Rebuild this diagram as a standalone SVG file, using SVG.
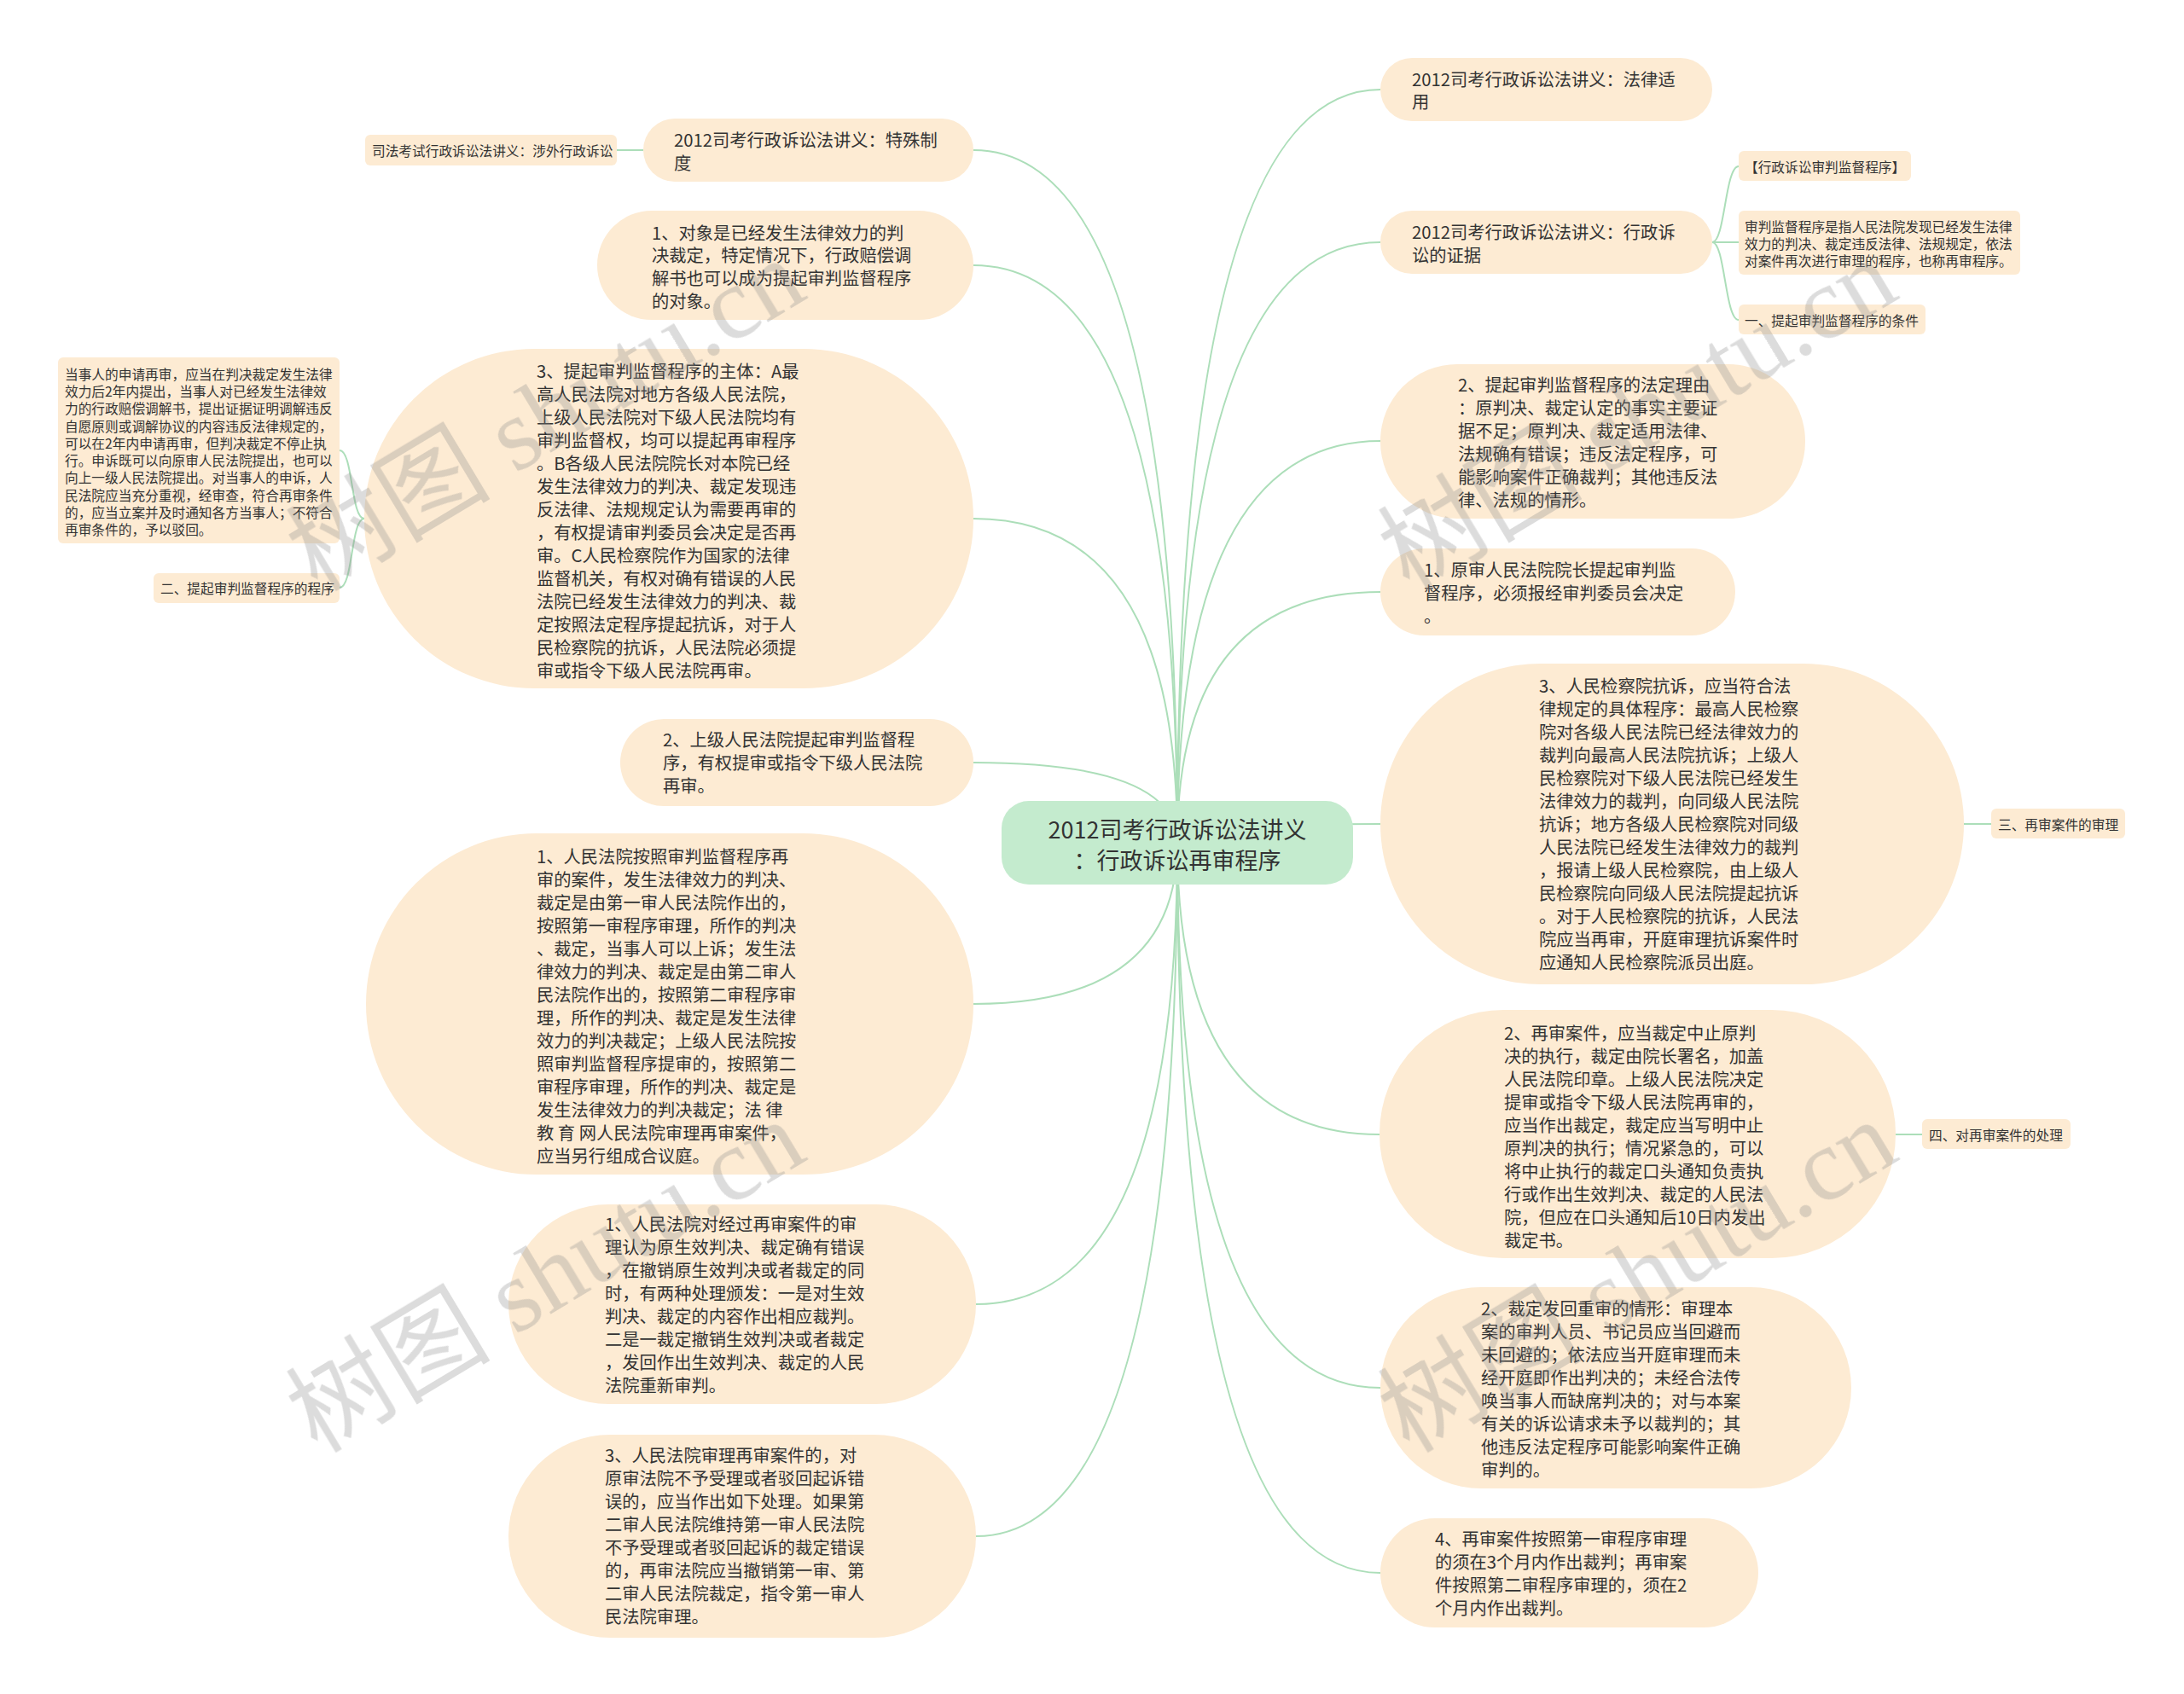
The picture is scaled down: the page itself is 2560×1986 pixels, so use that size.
<svg xmlns="http://www.w3.org/2000/svg" width="2560" height="1986" viewBox="0 0 2560 1986">
<style>
.n{fill:#fdebd3}
.cn{fill:#c4ebce}
.t{font-family:"Noto Sans CJK SC","Noto Sans",sans-serif;fill:#333333;dominant-baseline:central}
.s20{font-size:20.3px}
.s16{font-size:15.7px}
.s27{font-size:27px}
.ln{fill:none;stroke:#acdeb9;stroke-width:2}
.wm{font-family:"Liberation Serif","Noto Sans CJK SC",serif;font-size:120px;fill:#8a8a8a;opacity:0.3}
</style>
<rect width="2560" height="1986" fill="#ffffff"/>
<g id="connectors" class="ln">
<path d="M1380,988 Q1380,176 1141,176"/>
<path d="M1380,988 Q1380,311 1141,311"/>
<path d="M1380,988 Q1380,608 1141,608"/>
<path d="M1380,988 Q1380,894 1141,894"/>
<path d="M1380,988 Q1380,1177 1141,1177"/>
<path d="M1380,988 Q1380,1529 1144,1529"/>
<path d="M1380,988 Q1380,1801 1144,1801"/>
<path d="M1380,988 Q1380,105 1618,105"/>
<path d="M1380,988 Q1380,284 1618,284"/>
<path d="M1380,988 Q1380,517 1618,517"/>
<path d="M1380,988 Q1380,694 1618,694"/>
<path d="M1380,988 Q1380,966 1618,966"/>
<path d="M1380,988 Q1380,1330 1617,1330"/>
<path d="M1380,988 Q1380,1627 1618,1627"/>
<path d="M1380,988 Q1380,1844 1618,1844"/>
<path d="M754,176 L723,176"/>
<path d="M427,608 C411,608 414,528 398,528"/>
<path d="M427,608 C411,608 414,689 398,689"/>
<path d="M2007,284 C2022,284 2022,195 2038,195"/>
<path d="M2007,284 L2038,284"/>
<path d="M2007,284 C2022,284 2022,375 2038,375"/>
<path d="M2302,966 L2334,966"/>
<path d="M2222,1330 L2253,1330"/>
</g>

<g id="center">
<rect class="cn" x="1174" y="939" width="412" height="98" rx="32"/>
<text class="t s27" text-anchor="middle"><tspan x="1380" y="971">2012司考行政诉讼法讲义</tspan><tspan x="1380" y="1007">：行政诉讼再审程序</tspan></text>
</g>

<g id="n-shewai">
<rect class="n" x="428" y="158" width="295" height="36" rx="6"/>
<text class="t s16" x="436" y="176">司法考试行政诉讼法讲义：涉外行政诉讼</text>
</g>

<g id="n-teshu">
<rect class="n" x="754" y="139" width="387" height="74" rx="37"/>
<text class="t s20"><tspan x="790" y="163">2012司考行政诉讼法讲义：特殊制</tspan><tspan x="790" y="190">度</tspan></text>
</g>

<g id="n-duixiang">
<rect class="n" x="700" y="247" width="441" height="128" rx="64"/>
<text class="t s20"><tspan x="764" y="272">1、对象是已经发生法律效力的判</tspan><tspan x="764" y="298">决裁定，特定情况下，行政赔偿调</tspan><tspan x="764" y="325">解书也可以成为提起审判监督程序</tspan><tspan x="764" y="352">的对象。</tspan></text>
</g>

<g id="n-zhuti">
<rect class="n" x="427" y="409" width="714" height="398" rx="199"/>
<text class="t s20"><tspan x="629" y="434">3、提起审判监督程序的主体：A最</tspan><tspan x="629" y="461">高人民法院对地方各级人民法院，</tspan><tspan x="629" y="488">上级人民法院对下级人民法院均有</tspan><tspan x="629" y="515">审判监督权，均可以提起再审程序</tspan><tspan x="629" y="542">。B各级人民法院院长对本院已经</tspan><tspan x="629" y="569">发生法律效力的判决、裁定发现违</tspan><tspan x="629" y="596">反法律、法规规定认为需要再审的</tspan><tspan x="629" y="623">，有权提请审判委员会决定是否再</tspan><tspan x="629" y="650">审。C人民检察院作为国家的法律</tspan><tspan x="629" y="677">监督机关，有权对确有错误的人民</tspan><tspan x="629" y="704">法院已经发生法律效力的判决、裁</tspan><tspan x="629" y="731">定按照法定程序提起抗诉，对于人</tspan><tspan x="629" y="758">民检察院的抗诉，人民法院必须提</tspan><tspan x="629" y="785">审或指令下级人民法院再审。</tspan></text>
</g>

<g id="n-shenqing">
<rect class="n" x="68" y="419" width="330" height="218" rx="6"/>
<text class="t s16"><tspan x="76" y="438">当事人的申请再审，应当在判决裁定发生法律</tspan><tspan x="76" y="458">效力后2年内提出，当事人对已经发生法律效</tspan><tspan x="76" y="478">力的行政赔偿调解书，提出证据证明调解违反</tspan><tspan x="76" y="499">自愿原则或调解协议的内容违反法律规定的，</tspan><tspan x="76" y="519">可以在2年内申请再审，但判决裁定不停止执</tspan><tspan x="76" y="539">行。申诉既可以向原审人民法院提出，也可以</tspan><tspan x="76" y="559">向上一级人民法院提出。对当事人的申诉，人</tspan><tspan x="76" y="580">民法院应当充分重视，经审查，符合再审条件</tspan><tspan x="76" y="600">的，应当立案并及时通知各方当事人；不符合</tspan><tspan x="76" y="620">再审条件的，予以驳回。</tspan></text>
</g>

<g id="n-chengxu">
<rect class="n" x="180" y="672" width="218" height="35" rx="6"/>
<text class="t s16" x="188" y="689">二、提起审判监督程序的程序</text>
</g>

<g id="n-shangji">
<rect class="n" x="727" y="843" width="414" height="102" rx="51"/>
<text class="t s20"><tspan x="777" y="866">2、上级人民法院提起审判监督程</tspan><tspan x="777" y="893">序，有权提审或指令下级人民法院</tspan><tspan x="777" y="920">再审。</tspan></text>
</g>

<g id="n-anzhao">
<rect class="n" x="429" y="977" width="712" height="400" rx="200"/>
<text class="t s20"><tspan x="629" y="1003">1、人民法院按照审判监督程序再</tspan><tspan x="629" y="1030">审的案件，发生法律效力的判决、</tspan><tspan x="629" y="1057">裁定是由第一审人民法院作出的，</tspan><tspan x="629" y="1084">按照第一审程序审理，所作的判决</tspan><tspan x="629" y="1111">、裁定，当事人可以上诉；发生法</tspan><tspan x="629" y="1138">律效力的判决、裁定是由第二审人</tspan><tspan x="629" y="1165">民法院作出的，按照第二审程序审</tspan><tspan x="629" y="1192">理，所作的判决、裁定是发生法律</tspan><tspan x="629" y="1219">效力的判决裁定；上级人民法院按</tspan><tspan x="629" y="1246">照审判监督程序提审的，按照第二</tspan><tspan x="629" y="1273">审程序审理，所作的判决、裁定是</tspan><tspan x="629" y="1300">发生法律效力的判决裁定；法 律</tspan><tspan x="629" y="1327">教 育 网人民法院审理再审案件，</tspan><tspan x="629" y="1354">应当另行组成合议庭。</tspan></text>
</g>

<g id="n-jingguo">
<rect class="n" x="596" y="1412" width="548" height="234" rx="117"/>
<text class="t s20"><tspan x="709" y="1434">1、人民法院对经过再审案件的审</tspan><tspan x="709" y="1461">理认为原生效判决、裁定确有错误</tspan><tspan x="709" y="1488">，在撤销原生效判决或者裁定的同</tspan><tspan x="709" y="1515">时，有两种处理颁发：一是对生效</tspan><tspan x="709" y="1542">判决、裁定的内容作出相应裁判。</tspan><tspan x="709" y="1569">二是一裁定撤销生效判决或者裁定</tspan><tspan x="709" y="1596">，发回作出生效判决、裁定的人民</tspan><tspan x="709" y="1623">法院重新审判。</tspan></text>
</g>

<g id="n-shenli3">
<rect class="n" x="596" y="1682" width="548" height="238" rx="119"/>
<text class="t s20"><tspan x="709" y="1705">3、人民法院审理再审案件的，对</tspan><tspan x="709" y="1732">原审法院不予受理或者驳回起诉错</tspan><tspan x="709" y="1759">误的，应当作出如下处理。如果第</tspan><tspan x="709" y="1786">二审人民法院维持第一审人民法院</tspan><tspan x="709" y="1813">不予受理或者驳回起诉的裁定错误</tspan><tspan x="709" y="1840">的，再审法院应当撤销第一审、第</tspan><tspan x="709" y="1867">二审人民法院裁定，指令第一审人</tspan><tspan x="709" y="1894">民法院审理。</tspan></text>
</g>

<g id="n-falv">
<rect class="n" x="1618" y="68" width="389" height="74" rx="37"/>
<text class="t s20"><tspan x="1655" y="92">2012司考行政诉讼法讲义：法律适</tspan><tspan x="1655" y="118">用</tspan></text>
</g>

<g id="n-zhengju">
<rect class="n" x="1618" y="247" width="389" height="74" rx="37"/>
<text class="t s20"><tspan x="1655" y="271">2012司考行政诉讼法讲义：行政诉</tspan><tspan x="1655" y="298">讼的证据</tspan></text>
</g>

<g id="n-jiandu-title">
<rect class="n" x="2038" y="177" width="202" height="35" rx="6"/>
<text class="t s16" x="2045" y="195">【行政诉讼审判监督程序】</text>
</g>

<g id="n-jiandu-def">
<rect class="n" x="2038" y="247" width="330" height="75" rx="6"/>
<text class="t s16"><tspan x="2045" y="265">审判监督程序是指人民法院发现已经发生法律</tspan><tspan x="2045" y="285">效力的判决、裁定违反法律、法规规定，依法</tspan><tspan x="2045" y="305">对案件再次进行审理的程序，也称再审程序。</tspan></text>
</g>

<g id="n-tiaojian">
<rect class="n" x="2038" y="357" width="219" height="35" rx="6"/>
<text class="t s16" x="2045" y="375">一、提起审判监督程序的条件</text>
</g>

<g id="n-liyou">
<rect class="n" x="1618" y="427" width="498" height="181" rx="90"/>
<text class="t s20"><tspan x="1709" y="450">2、提起审判监督程序的法定理由</tspan><tspan x="1709" y="477">：原判决、裁定认定的事实主要证</tspan><tspan x="1709" y="504">据不足；原判决、裁定适用法律、</tspan><tspan x="1709" y="531">法规确有错误；违反法定程序，可</tspan><tspan x="1709" y="558">能影响案件正确裁判；其他违反法</tspan><tspan x="1709" y="585">律、法规的情形。</tspan></text>
</g>

<g id="n-yuanzhang">
<rect class="n" x="1618" y="643" width="416" height="102" rx="51"/>
<text class="t s20"><tspan x="1669" y="667">1、原审人民法院院长提起审判监</tspan><tspan x="1669" y="694">督程序，必须报经审判委员会决定</tspan><tspan x="1669" y="721">。</tspan></text>
</g>

<g id="n-kangsu">
<rect class="n" x="1618" y="778" width="684" height="376" rx="188"/>
<text class="t s20"><tspan x="1804" y="803">3、人民检察院抗诉，应当符合法</tspan><tspan x="1804" y="830">律规定的具体程序：最高人民检察</tspan><tspan x="1804" y="857">院对各级人民法院已经法律效力的</tspan><tspan x="1804" y="884">裁判向最高人民法院抗诉；上级人</tspan><tspan x="1804" y="911">民检察院对下级人民法院已经发生</tspan><tspan x="1804" y="938">法律效力的裁判，向同级人民法院</tspan><tspan x="1804" y="965">抗诉；地方各级人民检察院对同级</tspan><tspan x="1804" y="992">人民法院已经发生法律效力的裁判</tspan><tspan x="1804" y="1019">，报请上级人民检察院，由上级人</tspan><tspan x="1804" y="1046">民检察院向同级人民法院提起抗诉</tspan><tspan x="1804" y="1073">。对于人民检察院的抗诉，人民法</tspan><tspan x="1804" y="1100">院应当再审，开庭审理抗诉案件时</tspan><tspan x="1804" y="1127">应通知人民检察院派员出庭。</tspan></text>
</g>

<g id="n-shenli">
<rect class="n" x="2334" y="948" width="157" height="35" rx="6"/>
<text class="t s16" x="2342" y="966">三、再审案件的审理</text>
</g>

<g id="n-zhongzhi">
<rect class="n" x="1617" y="1184" width="605" height="291" rx="145"/>
<text class="t s20"><tspan x="1763" y="1210">2、再审案件，应当裁定中止原判</tspan><tspan x="1763" y="1237">决的执行，裁定由院长署名，加盖</tspan><tspan x="1763" y="1264">人民法院印章。上级人民法院决定</tspan><tspan x="1763" y="1291">提审或指令下级人民法院再审的，</tspan><tspan x="1763" y="1318">应当作出裁定，裁定应当写明中止</tspan><tspan x="1763" y="1345">原判决的执行；情况紧急的，可以</tspan><tspan x="1763" y="1372">将中止执行的裁定口头通知负责执</tspan><tspan x="1763" y="1399">行或作出生效判决、裁定的人民法</tspan><tspan x="1763" y="1426">院，但应在口头通知后10日内发出</tspan><tspan x="1763" y="1453">裁定书。</tspan></text>
</g>

<g id="n-chuli">
<rect class="n" x="2253" y="1312" width="174" height="35" rx="6"/>
<text class="t s16" x="2261" y="1330">四、对再审案件的处理</text>
</g>

<g id="n-fahui">
<rect class="n" x="1618" y="1509" width="552" height="236" rx="118"/>
<text class="t s20"><tspan x="1736" y="1533">2、裁定发回重审的情形：审理本</tspan><tspan x="1736" y="1560">案的审判人员、书记员应当回避而</tspan><tspan x="1736" y="1587">未回避的；依法应当开庭审理而未</tspan><tspan x="1736" y="1614">经开庭即作出判决的；未经合法传</tspan><tspan x="1736" y="1641">唤当事人而缺席判决的；对与本案</tspan><tspan x="1736" y="1668">有关的诉讼请求未予以裁判的；其</tspan><tspan x="1736" y="1695">他违反法定程序可能影响案件正确</tspan><tspan x="1736" y="1722">审判的。</tspan></text>
</g>

<g id="n-qixian">
<rect class="n" x="1618" y="1780" width="443" height="128" rx="64"/>
<text class="t s20"><tspan x="1682" y="1803">4、再审案件按照第一审程序审理</tspan><tspan x="1682" y="1830">的须在3个月内作出裁判；再审案</tspan><tspan x="1682" y="1857">件按照第二审程序审理的，须在2</tspan><tspan x="1682" y="1884">个月内作出裁判。</tspan></text>
</g>

<g id="watermark" class="wm">
<text transform="translate(372,695) rotate(-31)">树图 shutu.cn</text>
<text transform="translate(372,1705) rotate(-31)">树图 shutu.cn</text>
<text transform="translate(1652,695) rotate(-31)">树图 shutu.cn</text>
<text transform="translate(1652,1705) rotate(-31)">树图 shutu.cn</text>
</g>
</svg>
